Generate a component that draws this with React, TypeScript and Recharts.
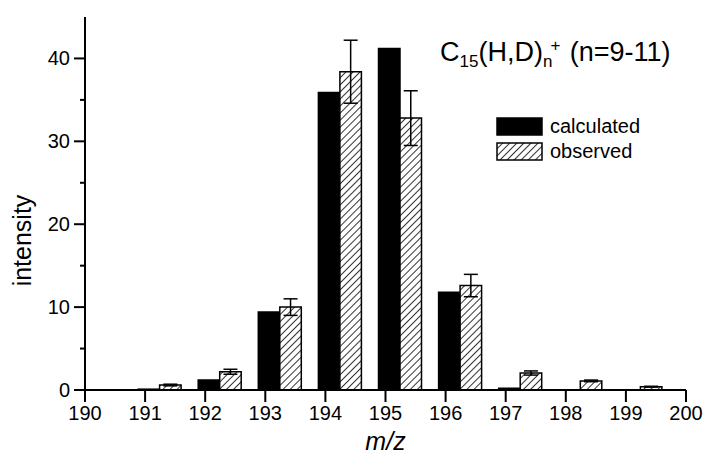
import React from 'react';
import { BarChart, Bar, XAxis, YAxis, ErrorBar } from 'recharts';

// m/z categories and intensities
const mzValues = [190, 191, 192, 193, 194, 195, 196, 197, 198, 199];
const calculated = [null, 0.1, 1.2, 9.4, 35.9, 41.2, 11.8, 0.2, 0, 0];
const observed = [null, 0.6, 2.2, 10.0, 38.4, 32.8, 12.6, 2.05, 1.1, 0.4];
const observedErr = [0, 0.1, 0.3, 1.0, 3.8, 3.3, 1.35, 0.25, 0.1, 0.05];

const xTicks = [190, 191, 192, 193, 194, 195, 196, 197, 198, 199, 200];
const yTicks = [0, 5, 10, 15, 20, 25, 30, 35, 40];

const legendItems = [
  { label: 'calculated', hatched: false },
  { label: 'observed', hatched: true },
];

const data = mzValues.map((mz, i) => ({
  mz,
  calculated: calculated[i],
  observed: observed[i],
  err: observedErr[i],
}));

const FONT = '"Liberation Sans", Arial, sans-serif';

function YTick(props: any) {
  const { x, y, payload } = props;
  const major = payload.value % 10 === 0;
  return (
    <g>
      <line x1={x} y1={y} x2={x - (major ? 11 : 5)} y2={y} stroke="#000" strokeWidth={2} />
      {major && (
        <text x={x - 15} y={y} dy={7} textAnchor="end" fontSize={20} fontFamily={FONT} fill="#000">
          {payload.value}
        </text>
      )}
    </g>
  );
}

function YLabel(props: any) {
  const vb = props.viewBox;
  const cx = vb.x + 22;
  const cy = vb.y + vb.height / 2 + 37;
  return (
    <text
      x={cx}
      y={cy}
      transform={`rotate(-90, ${cx}, ${cy})`}
      textAnchor="middle"
      dominantBaseline="central"
      fontSize={25}
      fontFamily={FONT}
      fill="#000"
    >
      intensity
    </text>
  );
}

export default function App() {
  return (
    <div style={{ position: 'absolute', left: 0, top: 0, width: 714, height: 456, background: '#fff' }}>
      <BarChart
        width={714}
        height={456}
        data={data}
        margin={{ top: 17, right: 28, left: 0, bottom: 0 }}
        barGap={0}
        barSize={21.5}
      >
        <defs>
          <pattern id="hatch" width={5} height={5} patternUnits="userSpaceOnUse" patternTransform="rotate(45)">
            <rect width={5} height={5} fill="#fff" />
            <line x1={0} y1={0} x2={0} y2={5} stroke="#000" strokeWidth={1.6} />
          </pattern>
        </defs>
        <XAxis
          xAxisId="bars"
          dataKey="mz"
          type="category"
          hide
          height={0}
          padding={{ left: -16, right: 16 }}
        />
        <XAxis
          xAxisId="mz"
          dataKey="mz"
          type="number"
          domain={[190, 200]}
          allowDataOverflow
          ticks={xTicks}
          interval={0}
          height={66}
          tickSize={12}
          tickMargin={4}
          stroke="#000"
          strokeWidth={2}
          tick={{ fontSize: 20, fontFamily: FONT, fill: '#000' }}
          label={{
            value: 'm/z',
            position: 'insideBottom',
            offset: 6,
            style: { fontSize: 25, fontFamily: FONT, fontStyle: 'italic', fill: '#000' },
          }}
        />
        <YAxis
          width={85}
          domain={[0, 45]}
          allowDataOverflow
          ticks={yTicks}
          interval={0}
          tickSize={0}
          tickMargin={0}
          tickLine={false}
          stroke="#000"
          strokeWidth={2}
          tick={<YTick />}
          label={<YLabel />}
        />
        <Bar
          xAxisId="bars"
          dataKey="calculated"
          name="calculated"
          fill="#000"
          stroke="#000"
          strokeWidth={1.5}
          isAnimationActive={false}
        />
        <Bar
          xAxisId="bars"
          dataKey="observed"
          name="observed"
          fill="url(#hatch)"
          stroke="#000"
          strokeWidth={1.5}
          isAnimationActive={false}
        >
          <ErrorBar dataKey="err" width={7} stroke="#000" strokeWidth={1.5} direction="y" />
        </Bar>
      </BarChart>
      <div
        style={{
          position: 'absolute',
          left: 440,
          top: 36,
          fontFamily: FONT,
          fontSize: 27,
          color: '#000',
          whiteSpace: 'nowrap',
        }}
      >
        C<sub style={{ fontSize: 17 }}>15</sub>(H,D)
        <sub style={{ fontSize: 17 }}>n</sub>
        <sup style={{ fontSize: 17, position: 'relative', left: -2 }}>+</sup> (n=9-11)
      </div>
      <div style={{ position: 'absolute', left: 496, top: 114, fontFamily: FONT, fontSize: 20, color: '#000' }}>
        {legendItems.map((it) => (
          <div key={it.label} style={{ display: 'flex', alignItems: 'center', height: 25 }}>
            <svg width={48} height={20} style={{ marginRight: 6 }}>
              <defs>
                <pattern id={`lg-${it.label}`} width={5} height={5} patternUnits="userSpaceOnUse" patternTransform="rotate(45)">
                  <line x1={0} y1={0} x2={0} y2={5} stroke="#000" strokeWidth={1.6} />
                </pattern>
              </defs>
              <rect
                x={1}
                y={1}
                width={45}
                height={17}
                fill={it.hatched ? `url(#lg-${it.label})` : '#000'}
                stroke="#000"
                strokeWidth={1.5}
              />
            </svg>
            <span>{it.label}</span>
          </div>
        ))}
      </div>
    </div>
  );
}
